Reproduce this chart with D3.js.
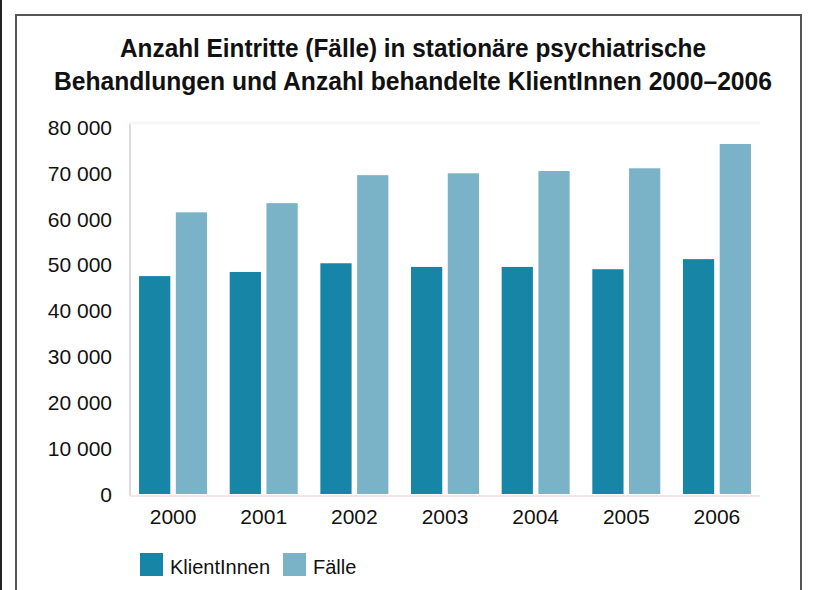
<!DOCTYPE html>
<html>
<head>
<meta charset="utf-8">
<script src="https://cdn.jsdelivr.net/npm/d3@7"></script>
<style>
  body { margin: 0; background: #fff; }
  text { font-family: "Liberation Sans Narrow", "Liberation Sans", Arial, sans-serif; fill: #111; }
</style>
</head>
<body>
<div id="chart"></div>
<script>
(function () {
    var width = 814,
        height = 590;

    var years = ["2000", "2001", "2002", "2003", "2004", "2005", "2006"];
    var klientinnen = [47500, 48400, 50300, 49500, 49500, 49000, 51200];
    var faelle = [61400, 63400, 69500, 69900, 70400, 71000, 76300];
    var seriesNames = ["KlientInnen", "Fälle"];
    var colors = ["#1786a6", "#7ab2c8"];
    var yTicks = [0, 10000, 20000, 30000, 40000, 50000, 60000, 70000, 80000];
    var titleLines = ["Anzahl Eintritte (Fälle) in stationäre psychiatrische",
        "Behandlungen und Anzahl behandelte KlientInnen 2000–2006"];

    var svg = d3.select("#chart")
        .append("svg")
        .attr("width", width)
        .attr("height", height)

    // frame
    svg.append("rect").attr("x", 0).attr("y", 0).attr("width", 2).attr("height", height).attr("fill", "#222")
    svg.append("path")
        .attr("d", "M16," + height + "V15H801V" + height)
        .attr("fill", "none")
        .attr("stroke", "#555")
        .attr("stroke-width", 2)

    // title, squeezed a bit to look like the condensed original
    var titleW = [586, 718]
    svg.selectAll(".title")
        .data(titleLines)
        .enter().append("text")
        .attr("class", "title")
        .attr("x", 413)
        .attr("y", function (d, i) { return 57 + i * 33 })
        .attr("text-anchor", "middle")
        .attr("textLength", function (d, i) { return titleW[i] })
        .attr("lengthAdjust", "spacingAndGlyphs")
        .style("font-size", "26px")
        .style("font-weight", "bold")
        .text(function (d) { return d })

    var left = 130, right = 760, top = 127, bottom = 494;

    var x = d3.scaleBand().domain(years).range([left, right]).paddingInner(0.25).paddingOuter(0.1)
    var x1 = d3.scaleBand().domain(seriesNames).range([0, x.bandwidth()]).paddingInner(0.15)
    var y = d3.scaleLinear().domain([0, 80000]).range([bottom, top])

    // faint plot frame
    svg.append("line").attr("x1", left).attr("x2", left).attr("y1", top - 4).attr("y2", bottom + 2)
        .attr("stroke", "#dcdcdc").attr("stroke-width", 2)
    svg.append("line").attr("x1", left).attr("x2", right).attr("y1", top - 4).attr("y2", top - 4)
        .attr("stroke", "#f6f6f6").attr("stroke-width", 3)
    svg.append("line").attr("x1", left).attr("x2", right).attr("y1", bottom + 2).attr("y2", bottom + 2)
        .attr("stroke", "#f0dede").attr("stroke-width", 1.5)

    var yAxis = svg.append("g")
        .attr("transform", "translate(" + (left - 18) + ",0)")
        .call(d3.axisLeft(y).tickValues(yTicks).tickSize(0).tickPadding(0)
            .tickFormat(function (d) { return d3.format(",")(d).replace(/,/g, " ") }))
    yAxis.select(".domain").remove()
    yAxis.selectAll("text").style("font-size", "21px").attr("dy", "0.35em")

    var xAxis = svg.append("g")
        .attr("transform", "translate(0," + (bottom + 15) + ")")
        .call(d3.axisBottom(x).tickSize(0).tickPadding(0))
    xAxis.select(".domain").remove()
    xAxis.selectAll("text").style("font-size", "21px").attr("dy", "0.71em")

    var rows = years.map(function (yr, i) {
        return { year: yr, values: [klientinnen[i], faelle[i]] }
    })

    var groups = svg.selectAll(".year")
        .data(rows)
        .enter().append("g")
        .attr("class", "year")
        .attr("transform", function (d) { return "translate(" + x(d.year) + ",0)" })

    groups.selectAll("rect")
        .data(function (d) { return d.values.map(function (v, j) { return { name: seriesNames[j], value: v, i: j } }) })
        .enter().append("rect")
        .attr("x", function (d) { return x1(d.name) })
        .attr("width", x1.bandwidth())
        .attr("y", function (d) { return y(d.value) })
        .attr("height", function (d) { return bottom - y(d.value) })
        .attr("fill", function (d) { return colors[d.i] })

    var legend = svg.selectAll(".legend")
        .data(seriesNames)
        .enter().append("g")
        .attr("class", "legend")
        .attr("transform", function (d, i) { return "translate(" + (140 + i * 143) + ",553)" })
    legend.append("rect").attr("width", 23).attr("height", 23).attr("fill", function (d, i) { return colors[i] })
    legend.append("text").attr("x", 30).attr("y", 21).style("font-size", "20px").text(function (d) { return d })
})();
</script>
</body>
</html>
